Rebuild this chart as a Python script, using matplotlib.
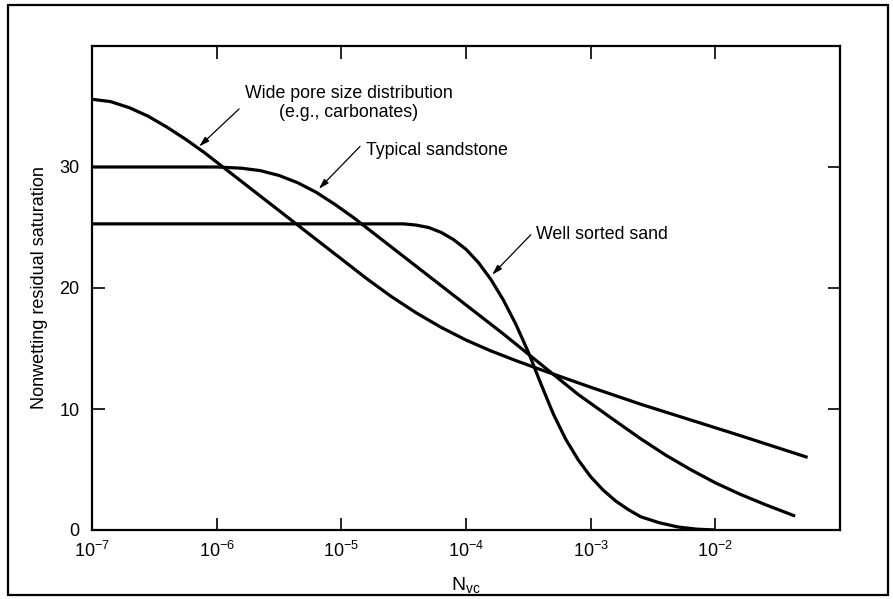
import numpy as np
import matplotlib.pyplot as plt
from matplotlib.patches import Rectangle

plt.rcParams['font.family'] = 'Liberation Sans'
plt.rcParams['mathtext.fontset'] = 'custom'
plt.rcParams['mathtext.rm'] = 'Liberation Sans'
plt.rcParams['mathtext.it'] = 'Liberation Sans:italic'

# Curves: log10(N_vc) and nonwetting residual saturation (%)

wide_logN = [-7.0, -6.85, -6.7, -6.55, -6.4, -6.25, -6.1, -5.95, -5.8, -5.6,
             -5.4, -5.2, -5.0, -4.8, -4.6, -4.4, -4.2, -4.0, -3.8, -3.6,
             -3.4, -3.0, -2.6, -2.2, -1.8, -1.26]
wide_sat = [35.6, 35.4, 34.9, 34.2, 33.3, 32.3, 31.2, 30.0, 28.8, 27.2,
            25.6, 24.0, 22.4, 20.8, 19.3, 17.95, 16.75, 15.7, 14.8, 14.0,
            13.25, 11.8, 10.4, 9.1, 7.8, 6.0]

typ_logN = [-7.0, -6.0, -5.8, -5.65, -5.5, -5.35, -5.2, -5.05, -4.9, -4.75,
            -4.6, -4.45, -4.3, -4.0, -3.7, -3.4, -3.1, -2.8, -2.6, -2.4,
            -2.2, -2.0, -1.8, -1.6, -1.36]
typ_sat = [30.0, 30.0, 29.9, 29.7, 29.3, 28.7, 27.9, 26.9, 25.8, 24.6,
           23.4, 22.2, 21.0, 18.6, 16.2, 13.7, 11.2, 9.0, 7.55, 6.2,
           5.0, 3.9, 2.95, 2.1, 1.15]

sorted_logN = [-7.0, -4.5, -4.4, -4.3, -4.2, -4.1, -4.0, -3.9, -3.8, -3.7,
               -3.6, -3.5, -3.4, -3.3, -3.2, -3.1, -3.0, -2.9, -2.8, -2.7,
               -2.6, -2.45, -2.3, -2.15, -2.0]
sorted_sat = [25.3, 25.3, 25.2, 25.0, 24.6, 24.0, 23.2, 22.1, 20.7, 19.0,
              17.0, 14.7, 12.1, 9.6, 7.5, 5.8, 4.4, 3.3, 2.4, 1.7,
              1.1, 0.6, 0.25, 0.07, 0.0]

x_ticks = [1e-7, 1e-6, 1e-5, 1e-4, 1e-3, 1e-2]
x_labels = [r'$\mathregular{10^{-7}}$', r'$\mathregular{10^{-6}}$', r'$\mathregular{10^{-5}}$',
            r'$\mathregular{10^{-4}}$', r'$\mathregular{10^{-3}}$', r'$\mathregular{10^{-2}}$']
y_ticks = [0, 10, 20, 30]

# Canvas

fig = plt.figure(figsize=(8.93, 5.99), dpi=100)
fig.patches.append(Rectangle((8/893, 1-595/599), 880/893, 590/599, transform=fig.transFigure,
                             fill=False, edgecolor='black', lw=1.6))

ax = fig.add_axes([92/893, 1-530/599, (840-92)/893, (530-46)/599])

# Plots

for logN, sat in [(wide_logN, wide_sat), (typ_logN, typ_sat), (sorted_logN, sorted_sat)]:
    ax.plot(10.0**np.array(logN), sat, color='black', lw=2.3,
            solid_capstyle='butt', solid_joinstyle='round')

# Axes

ax.set_xscale('log')
ax.set_xlim(1e-7, 1e-1)
ax.set_ylim(0, 40)
ax.set_xticks(x_ticks)
ax.set_xticklabels(x_labels)
ax.minorticks_off()
ax.set_yticks(y_ticks)
ax.tick_params(direction='in', length=9, width=1.2, top=True, right=True, labelsize=13)
ax.tick_params(axis='x', pad=8)
ax.tick_params(axis='y', pad=9)
for s in ax.spines.values():
    s.set_linewidth(1.6)

ax.set_xlabel(r'$\mathregular{N_{vc}}$', fontsize=14, labelpad=10)
ax.set_ylabel('Nonwetting residual saturation', fontsize=13, labelpad=8)

# Labels and arrows

arrow = dict(arrowstyle='-|>,head_length=0.6,head_width=0.18', color='black', lw=0.9,
             shrinkA=0, shrinkB=0)

ax.text(10**-4.94, 35.3, 'Wide pore size distribution\n(e.g., carbonates)',
        ha='center', va='center', fontsize=12.8, linespacing=1.2)
ax.annotate('', xy=(10**-6.14, 31.7), xytext=(10**-5.82, 34.8), arrowprops=arrow)

ax.text(10**-4.8, 31.4, 'Typical sandstone', ha='left', va='center', fontsize=12.8)
ax.annotate('', xy=(10**-5.18, 28.2), xytext=(10**-4.85, 31.7), arrowprops=arrow)

ax.text(10**-3.44, 24.4, 'Well sorted sand', ha='left', va='center', fontsize=12.8)
ax.annotate('', xy=(10**-3.79, 21.1), xytext=(10**-3.48, 24.4), arrowprops=arrow)

plt.savefig('out.png', dpi=100)
